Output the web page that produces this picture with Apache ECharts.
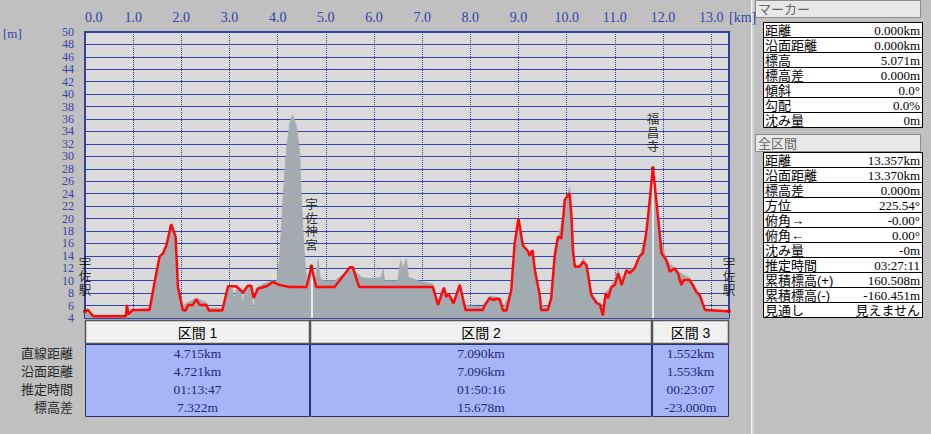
<!DOCTYPE html>
<html><head><meta charset="utf-8">
<script src="https://cdn.jsdelivr.net/npm/echarts@6/dist/echarts.min.js"></script>
<style>
html,body{margin:0;padding:0;background:#c0c0c0;}
#chart{position:absolute;left:0;top:0;width:931px;height:434px;}
</style></head>
<body><div id="chart"></div>
<script>
// ---- profile data ----
const routeKm = [0,0.06,0.17,0.85,0.87,0.90,0.99,1.34,1.48,1.55,1.62,1.69,1.79,1.88,1.93,2.03,2.09,2.14,2.24,2.31,2.38,2.52,2.57,2.85,2.97,3.14,3.28,3.38,3.45,3.50,3.59,3.77,3.90,4.04,4.25,4.60,4.70,4.80,5.18,5.50,5.56,5.69,7.22,7.33,7.45,7.50,7.55,7.65,7.78,7.90,8.26,8.30,8.40,8.47,8.54,8.61,8.68,8.75,8.85,8.92,9.00,9.09,9.20,9.23,9.29,9.34,9.44,9.47,9.61,9.68,9.75,9.82,9.89,9.96,10.06,10.10,10.13,10.17,10.27,10.34,10.41,10.44,10.51,10.62,10.69,10.75,10.81,10.86,10.93,11.00,11.07,11.14,11.24,11.31,11.41,11.51,11.58,11.65,11.69,11.79,11.86,11.93,11.97,12.07,12.14,12.24,12.31,12.38,12.43,12.55,12.62,12.69,12.76,12.87,13.37];
const routeElev = [5.07,5.3,4.3,4.3,6.1,4.6,5.3,5.3,11.2,13.9,14.4,15.7,19.1,17.1,9.0,5.3,5.2,6.1,6.1,7.0,6.1,6.1,5.2,5.2,9.1,9.1,8.1,9.2,9.2,7.2,8.7,9.1,9.8,9.3,9.0,9.0,12.3,9.0,9.0,12.15,12.15,9.0,9.0,6.1,8.9,7.4,7.9,6.35,9.3,5.3,5.3,6.1,7.2,6.9,7.1,7.0,5.2,5.2,8.5,16.0,20.0,15.7,14.7,14.0,14.9,11.7,7.7,5.3,5.3,7.2,13.9,17.1,16.8,23.0,24.05,20.3,14.9,12.25,12.25,13.05,12.5,11.2,7.7,6.4,6.2,4.4,8.0,7.2,9.0,9.3,11.2,9.3,11.7,11.2,12.0,13.9,14.4,17.6,20.3,28.1,23.0,17.6,14.4,13.3,11.45,12.0,11.2,9.3,10.1,10.1,9.3,8.2,7.7,5.3,5.07];
const terrainKm = [0,0.17,0.85,0.90,1.00,1.34,1.48,1.55,1.62,1.69,1.79,1.88,1.93,2.03,2.14,2.31,2.52,2.57,2.85,2.97,3.05,3.10,3.14,3.22,3.28,3.33,3.40,3.45,3.50,3.55,3.70,3.90,3.98,4.04,4.11,4.18,4.25,4.31,4.39,4.46,4.49,4.56,4.62,4.70,4.75,4.80,4.84,4.88,4.95,5.18,5.50,5.60,5.75,5.95,6.15,6.19,6.22,6.50,6.55,6.60,6.67,6.72,7.00,7.22,7.33,7.45,7.55,7.65,7.78,7.90,8.26,8.40,8.61,8.68,8.85,8.92,9.00,9.09,9.20,9.29,9.34,9.44,9.47,9.61,9.68,9.75,9.82,9.96,10.06,10.10,10.17,10.27,10.35,10.44,10.51,10.62,10.75,10.81,10.93,11.07,11.14,11.24,11.41,11.51,11.65,11.79,11.86,11.93,12.07,12.31,12.45,12.55,12.69,12.87,13.37];
const terrainElev = [5.0,4.5,4.5,5.0,5.3,5.6,10.5,13.5,14.2,15.0,18.5,16.5,9.5,6.0,6.5,7.2,6.5,5.6,5.6,8.5,9.0,7.0,8.5,8.8,6.3,8.8,9.0,8.5,4.8,8.8,9.5,10.0,9.8,13.3,23.0,31.0,35.3,36.7,34.8,30.5,23.0,13.3,9.5,11.8,9.5,11.0,13.4,10.5,10.0,10.0,11.8,11.5,10.5,10.3,10.5,11.8,10.0,10.0,13.3,12.0,13.5,10.5,9.8,9.5,6.5,8.5,7.5,6.8,9.6,6.0,5.8,7.5,7.3,5.5,8.5,15.5,19.5,15.5,14.5,14.8,12.0,8.0,6.0,5.8,7.5,13.5,16.5,22.0,25.0,20.0,12.5,12.5,13.6,11.5,8.0,6.8,5.0,8.0,9.2,11.7,9.8,11.5,12.2,13.8,17.6,28.5,23.0,17.6,13.3,11.5,10.8,10.5,8.5,5.5,5.0];
const markerNames = ['宇佐駅','宇佐神宮','福昌寺','宇佐駅'];
const markerKm = [0, 4.70, 11.79, 13.37];
const markerElev = [5.07, 12.3, 28.1, 5.07];
const xMin = 0, xMax = 13.37, xStep = 1;
const yMin = 4, yMax = 50, yStep = 2;

// ---- table data ----
const markerLabels = ['距離','沿面距離','標高','標高差','傾斜','勾配','沈み量'];
const markerValues = ['0.000km','0.000km','5.071m','0.000m','0.0°','0.0%','0m'];
const totalLabels = ['距離','沿面距離','標高差','方位','俯角→','俯角←','沈み量','推定時間','累積標高(+)','累積標高(-)','見通し'];
const totalValues = ['13.357km','13.370km','0.000m','225.54°','-0.00°','0.00°','-0m','03:27:11','160.508m','-160.451m','見えません'];
const panelTitles = ['マーカー','全区間'];
const sectionNames = ['区間 1','区間 2','区間 3'];
const rowLabels = ['直線距離','沿面距離','推定時間','標高差'];
const sectionStraight = ['4.715km','7.090km','1.552km'];
const sectionSurface = ['4.721km','7.096km','1.553km'];
const sectionTime = ['01:13:47','01:50:16','00:23:07'];
const sectionElevDiff = ['7.322m','15.678m','-23.000m'];

const AX = '#3444a8';
const JP = '"Liberation Sans", "Noto Sans CJK JP"';
const SERIF = '"Liberation Serif", "Noto Sans CJK JP"';
const chart = echarts.init(document.getElementById('chart'), null, {renderer:'svg'});
const routeData = routeKm.map((k,i)=>[k, routeElev[i]]);
const terrainData = terrainKm.map((k,i)=>[k, terrainElev[i]]);
const markerData = markerKm.map((k,i)=>[k, markerElev[i]]);
const lineData = [1,2].map(i=>[{coord:[markerKm[i], markerElev[i]]},{coord:[markerKm[i], yMin]}]);

// ---- graphic elements (panel + section table) ----
const G = [];
function T(x,y,text,opt){G.push({type:'text', x:x, y:y, z:20, silent:true,
  style:Object.assign({text:text, fill:'#000', font:'13px '+JP, align:'left', verticalAlign:'middle'}, opt||{})});}
function R(x,y,w,h,fill,stroke,lw){G.push({type:'rect', z:10, silent:true, shape:{x:x,y:y,width:w,height:h},
  style:{fill:fill, stroke:stroke||null, lineWidth:lw||1}});}

T(3, 33, '[m]', {fill:AX, font:'13px "Liberation Serif"'});
T(729, 17, '[km]', {fill:AX, font:'14px "Liberation Serif"'});

// right panel
R(751, 0, 3, 434, '#d6d6d6', null);
R(751, 0, 1, 434, '#f4f4f4', null);
const panelTops = [0, 134];
const tableTops = [22, 152];
[[markerLabels, markerValues],[totalLabels, totalValues]].forEach((pair,p)=>{
  R(755.5, panelTops[p]+0.5, 165, 17, '#e8e8e8', '#8c8c8c');
  T(758, panelTops[p]+9.5, panelTitles[p], {fill:'#666'});
  pair[0].forEach((lab,i)=>{
    const y = tableTops[p] + 15*i;
    R(763.5, y+0.5, 159, 15, '#ffffff', '#000000');
    T(765, y+8, lab);
    T(920, y+8, pair[1][i], {align:'right', font:'13px '+SERIF});
  });
});

// section table
const colX = [85, 310, 652, 729];
const rowsY = [353, 371, 389, 407];
const cols = [sectionStraight, sectionSurface, sectionTime, sectionElevDiff];
rowLabels.forEach((l,i)=>T(73, rowsY[i], l, {align:'right', fill:'#2a2a2a'}));
sectionNames.forEach((n,j)=>{
  const w = colX[j+1]-colX[j];
  R(colX[j]+0.5, 320.5, w-1, 23, '#f0f0f0', '#555555', 1.5);
  T(colX[j]+w/2, 332.5, n, {align:'center', font:'14px '+JP});
  R(colX[j]+0.5, 344.5, w-1, 72, '#a6b5f7', '#2a3070');
  cols.forEach((arr,i)=>T(colX[j]+w/2, rowsY[i], arr[j], {align:'center', fill:'#1e2a78', font:'13.5px '+SERIF}));
});

chart.setOption({
  backgroundColor:'#c0c0c0',
  animation:false,
  grid:{left:85, top:32, width:644, height:286, show:true, backgroundColor:'#dadada', borderColor:'#2f3f9f', borderWidth:2},
  xAxis:{type:'value', position:'top', min:xMin, max:xMax, interval:xStep,
    axisLine:{show:false}, axisTick:{show:false},
    axisLabel:{color:AX, fontSize:14, fontFamily:'Liberation Serif', margin:8, showMaxLabel:false, alignMinLabel:'left',
      formatter:v=>v.toFixed(1)},
    splitLine:{show:true, lineStyle:{type:'dotted', color:'#2f3fa8', width:1}}},
  yAxis:{type:'value', min:yMin, max:yMax, interval:yStep,
    axisLine:{show:false}, axisTick:{show:false},
    axisLabel:{color:AX, fontSize:12, fontFamily:'Liberation Serif', margin:11, lineHeight:12,
      showMinLabel:true, showMaxLabel:true, hideOverlap:false},
    splitLine:{show:true, lineStyle:{type:'solid', color:'#3646aa', width:1}}},
  graphic:G,
  series:[
    {type:'line', data:terrainData, showSymbol:false, z:1,
      lineStyle:{width:0.8, color:'#a2abaf'}, areaStyle:{color:'#a2abaf', origin:'start', opacity:1}},
    {type:'line', data:routeData, showSymbol:false, z:3,
      lineStyle:{width:2.5, color:'#ff0a0a'}},
    {type:'scatter', data:markerData, z:4, symbolSize:4, clip:false,
      itemStyle:{color:'#c00000'},
      label:{show:true, position:'top', distance:12, color:'#000', fontSize:12.5, lineHeight:13.5,
        fontFamily:JP,
        formatter:p=>markerNames[p.dataIndex].split('').join('\n')},
      markLine:{silent:true, symbol:['none','none'], label:{show:false}, z:2,
        lineStyle:{color:'#ffffff', width:1.5, type:'solid'}, data:lineData}}
  ]
});
</script></body></html>
